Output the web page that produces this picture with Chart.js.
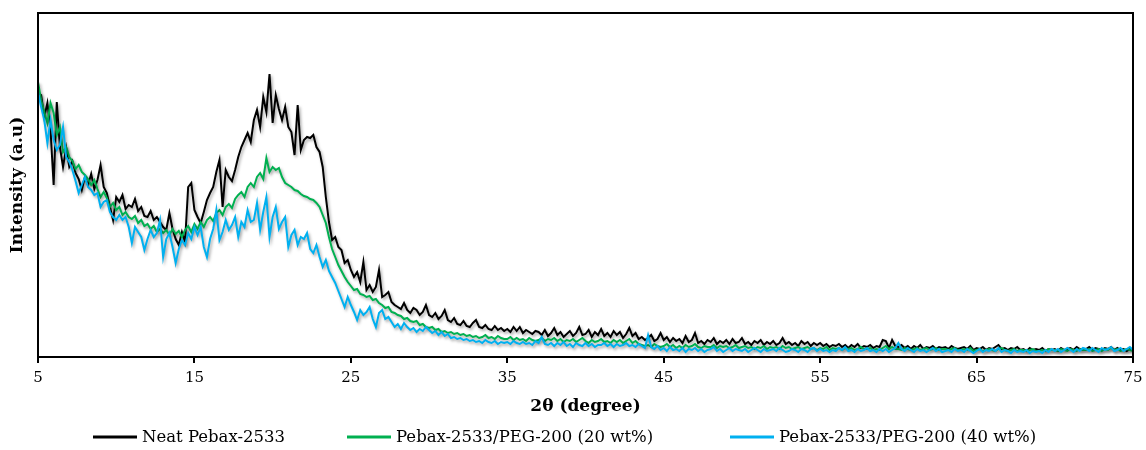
<!DOCTYPE html>
<html>
<head>
<meta charset="utf-8">
<script src="https://cdn.jsdelivr.net/npm/chart.js@4.4.1/dist/chart.umd.min.js"></script>
<style>
  body { margin: 0; background: #fff; }
</style>
</head>
<body>
<canvas id="xrd" width="1146" height="450"></canvas>
<script>
// 2θ sampling: 5° to 75° every 0.2°
const angleStart = 5;
const angleStep = 0.2;
const xTicks = [5, 15, 25, 35, 45, 55, 65, 75];
const seriesNames = ["Neat Pebax-2533", "Pebax-2533/PEG-200 (20 wt%)", "Pebax-2533/PEG-200 (40 wt%)"];

// intensities (a.u.), one group per degree (5 samples)
const neat = [
  264,262,240,254,227, 172,255,210,190,209, 190,196,184,178,167, 180,172,183,168,177,
  192,170,164,150,137, 160,155,162,148,152, 150,158,146,150,141, 140,146,137,140,135,
  130,127,144,128,118, 112,125,115,170,174, 147,140,134,145,157, 164,170,185,197,150,
  187,180,176,187,200, 210,217,224,215,237, 247,230,260,245,283, 234,262,248,237,250,
  230,225,202,252,207, 217,220,219,222,210, 205,190,160,135,117, 120,110,107,94,97,
  87,80,85,75,95, 67,72,65,70,87, 60,62,65,55,52, 50,48,54,47,44,
  49,47,42,45,52, 42,40,44,38,41, 47,37,35,39,33, 32,36,31,30,34,
  37,30,29,32,28, 27,31,27,29,26, 28,25,30,26,30, 24,27,25,23,26,
  25,22,27,21,24, 29,22,25,20,23, 26,21,24,30,22, 23,27,20,25,22,
  28,21,24,20,26, 22,25,19,23,29, 21,24,18,20,17, 19,22,16,18,24,
  17,20,15,19,16, 18,14,21,15,17, 24,14,16,13,17, 15,19,13,16,14,
  17,13,18,14,15, 19,13,15,12,16, 14,17,12,15,13, 16,12,14,19,13,
  15,12,14,11,16, 13,15,11,14,12, 14,11,13,10,12, 11,13,10,12,9,
  12,10,13,9,11, 10,12,9,11,10, 17,16,9,17,11, 10,12,9,11,8,
  11,9,12,8,10, 9,11,8,10,9, 10,8,11,9,8, 9,10,8,11,7,
  9,8,10,7,9, 8,10,12,8,9, 7,9,8,10,7, 8,6,9,7,8,
  7,9,6,8,7, 8,6,9,7,8, 9,7,10,8,7, 8,10,7,9,8,
  7,9,8,10,7, 9,7,8,6,8, 7
];

const peg20 = [
  275,257,245,234,254, 244,222,230,205,210, 200,196,188,192,185, 182,178,172,177,168,
  160,165,159,150,154, 147,150,142,145,140, 138,141,134,137,131, 133,128,131,125,128,
  124,127,122,128,123, 126,120,127,131,125, 133,128,135,130,137, 140,136,144,147,142,
  150,153,149,158,162, 165,160,170,174,170, 180,184,178,199,185, 190,187,189,180,174,
  172,170,167,166,163, 161,160,158,157,154, 150,142,134,120,108, 100,92,86,80,75,
  71,67,68,63,62, 60,61,57,58,54, 52,49,50,45,44, 42,41,38,39,36,
  35,36,32,33,30, 29,30,27,28,25, 26,24,25,23,24, 22,23,21,22,20,
  21,19,20,22,19, 20,18,21,19,18, 18,20,17,19,17, 18,16,19,17,16,
  17,19,16,18,17, 19,16,18,15,17, 16,18,15,17,19, 16,14,17,15,16,
  18,15,16,14,17, 15,17,14,16,18, 14,16,13,12,11, 12,10,13,11,10,
  11,13,10,12,9, 11,9,12,10,11, 13,10,9,11,10, 10,12,9,11,10,
  11,9,10,12,9, 10,11,9,10,8, 10,9,11,8,10, 9,10,8,11,9,
  10,8,9,10,8, 9,10,8,9,7, 9,8,10,7,9, 8,9,7,9,8,
  9,7,8,10,8, 8,9,7,8,7, 9,11,8,10,8, 8,7,9,8,7,
  8,9,7,8,9, 7,8,9,7,8, 8,7,8,9,7, 7,8,7,9,6,
  7,8,6,7,8, 7,6,8,9,7, 6,7,8,6,7, 7,6,7,8,6,
  6,7,6,8,7, 7,6,8,7,6, 8,7,6,8,7, 7,8,6,7,8,
  6,8,7,9,7, 8,6,7,8,7, 6
];

const peg40 = [
  265,250,237,214,237, 217,207,212,230,200, 195,187,176,164,172, 180,170,167,162,164,
  150,155,157,145,140, 137,142,137,140,130, 114,130,125,120,107, 118,127,120,124,137,
  100,118,124,110,94, 108,117,112,124,118, 130,122,130,110,100, 118,128,147,117,125,
  137,127,132,140,120, 135,130,147,135,137, 154,127,145,160,120, 140,150,128,135,140,
  110,122,127,112,120, 118,124,108,104,112, 100,90,97,86,80, 74,66,58,50,60,
  52,45,37,47,42, 45,50,38,30,44, 47,38,40,35,30, 33,28,34,30,27,
  29,25,28,26,30, 27,24,26,22,25, 21,23,19,20,18, 19,17,18,16,17,
  15,16,14,17,15, 14,16,13,15,14, 15,13,16,14,13, 15,13,14,12,16,
  14,20,13,12,14, 11,14,12,15,11, 13,10,14,12,11, 14,11,13,10,12,
  12,14,11,13,10, 13,11,12,14,11, 12,10,13,11,9, 22,10,8,11,7,
  9,6,10,7,8, 6,9,5,8,7, 9,6,8,5,7, 8,10,6,8,5,
  7,9,6,8,7, 6,8,5,7,9, 7,5,8,6,7, 8,6,9,7,5,
  6,8,7,5,8, 7,5,8,9,6, 8,6,7,5,7, 6,9,7,10,6,
  7,5,8,6,7, 9,6,7,5,8, 6,8,5,7,9, 14,8,6,9,7,
  5,8,6,7,5, 7,9,6,8,5, 6,7,5,8,6, 7,5,8,6,4,
  6,8,5,7,6, 8,6,9,5,7, 6,4,7,5,6, 5,7,4,6,5,
  6,4,7,5,8, 6,8,5,7,9, 7,5,8,6,9, 8,6,9,7,5,
  9,7,8,10,6, 7,9,6,8,10, 7
];

const toPoints = vals => vals.map((v, i) => ({ x: +(angleStart + i * angleStep).toFixed(1), y: v }));

const serif = "'DejaVu Serif', 'Liberation Serif', serif";

// box around the plot area
const frame = {
  id: "frame",
  afterDatasetsDraw(chart) {
    const { ctx, chartArea: a } = chart;
    ctx.save();
    ctx.strokeStyle = "#000";
    ctx.lineWidth = 2;
    ctx.strokeRect(a.left, a.top, a.right - a.left, a.bottom - a.top);
    ctx.restore();
  }
};

// soft grey shadow under the lines (Excel style)
const lineShadow = {
  id: "lineShadow",
  beforeDatasetDraw(chart) {
    const ctx = chart.ctx;
    ctx.save();
    ctx.shadowColor = "rgba(0,0,0,0.35)";
    ctx.shadowBlur = 3;
    ctx.shadowOffsetX = 1.5;
    ctx.shadowOffsetY = 2;
  },
  afterDatasetDraw(chart) {
    chart.ctx.restore();
  }
};

// legend row under the axis title, items spaced like the original
const legendRow = {
  id: "legendRow",
  afterDraw(chart) {
    const ctx = chart.ctx;
    const starts = [93, 347, 730];
    const y = 437;
    ctx.save();
    ctx.font = "16.5px " + serif;
    ctx.textBaseline = "middle";
    chart.data.datasets.forEach((ds, i) => {
      const x = starts[i];
      ctx.strokeStyle = ds.borderColor;
      ctx.lineWidth = 3;
      ctx.beginPath();
      ctx.moveTo(x, y);
      ctx.lineTo(x + 44, y);
      ctx.stroke();
      ctx.fillStyle = "#000";
      ctx.fillText(ds.label, x + 49, y + 1);
    });
    ctx.restore();
  }
};

new Chart(document.getElementById("xrd"), {
  type: "line",
  data: {
    datasets: [
      { label: seriesNames[0], data: toPoints(neat), borderColor: "#000000", order: 3 },
      { label: seriesNames[1], data: toPoints(peg20), borderColor: "#00b050", order: 2 },
      { label: seriesNames[2], data: toPoints(peg40), borderColor: "#00b0f0", order: 1 }
    ]
  },
  options: {
    responsive: false,
    animation: false,
    layout: { padding: { top: 13, right: 13, left: 0, bottom: 0 } },
    elements: {
      line: { borderWidth: 2, tension: 0 },
      point: { radius: 0 }
    },
    scales: {
      x: {
        type: "linear",
        min: 5,
        max: 75,
        afterBuildTicks: axis => { axis.ticks = xTicks.map(v => ({ value: v })); },
        afterFit: axis => { axis.height = 93; axis.paddingLeft = 0; axis.paddingRight = 0; },
        grid: { drawOnChartArea: false, drawTicks: true, tickLength: 6, color: "#000", lineWidth: 2 },
        border: { color: "#000", width: 2 },
        ticks: { color: "#000", font: { family: serif, size: 15 }, padding: 6, maxRotation: 0, autoSkip: false },
        title: { display: true, text: "2θ (degree)", color: "#000", font: { family: serif, size: 17, weight: "bold" }, padding: { top: 0, bottom: 33 } }
      },
      y: {
        min: 0,
        max: 344,
        afterFit: axis => { axis.width = 38; },
        grid: { display: false },
        border: { color: "#000", width: 2 },
        ticks: { display: false },
        title: { display: true, text: "Intensity (a.u)", color: "#000", font: { family: serif, size: 17, weight: "bold" }, padding: { top: 7, bottom: 0 } }
      }
    },
    plugins: {
      legend: { display: false },
      tooltip: { enabled: false }
    }
  },
  plugins: [frame, lineShadow, legendRow]
});
</script>
</body>
</html>
